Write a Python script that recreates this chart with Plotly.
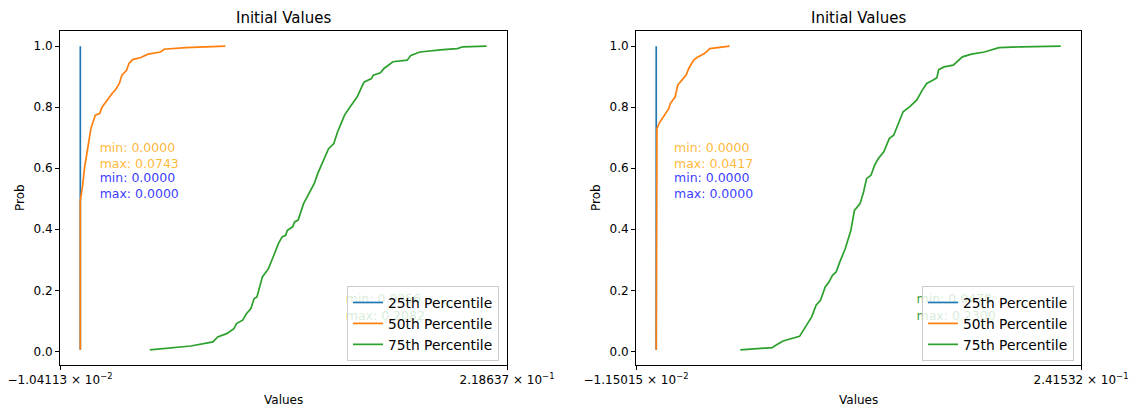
import plotly.graph_objects as go

# ---------------- data ----------------
# Left panel
L_p25_x = [0.0, 0.0]
L_p25_y = [0.005, 1.0]

L_p50_x = [0.0, 0.0, 0.0011, 0.0022, 0.0035, 0.0054, 0.0077, 0.0099, 0.0112, 0.0136,
           0.0163, 0.0181, 0.0200, 0.0213, 0.0237, 0.0249, 0.0268, 0.0310, 0.0347,
           0.0411, 0.0429, 0.0539, 0.0743]
L_p50_y = [0.005, 0.495, 0.539, 0.604, 0.654, 0.730, 0.774, 0.779, 0.801, 0.823,
           0.845, 0.858, 0.878, 0.905, 0.921, 0.943, 0.956, 0.963, 0.974,
           0.981, 0.990, 0.995, 1.0]

L_p75_x = [0.0356, 0.0566, 0.0680, 0.0704, 0.0750, 0.0787, 0.0800, 0.0832, 0.0851,
           0.0874, 0.0891, 0.0905, 0.0933, 0.0964, 0.0988, 0.1015, 0.1034, 0.1052,
           0.1061, 0.1088, 0.1098, 0.1116, 0.1144, 0.1171, 0.1199, 0.1217, 0.1244,
           0.1272, 0.1299, 0.1318, 0.1336, 0.1354, 0.1382, 0.1419, 0.1446, 0.1455,
           0.1492, 0.1501, 0.1538, 0.1556, 0.1602, 0.1675, 0.1694, 0.1740, 0.1859,
           0.1932, 0.1960, 0.2082]
L_p75_y = [0.005, 0.0175, 0.031, 0.047, 0.058, 0.074, 0.091, 0.102, 0.123,
           0.140, 0.173, 0.178, 0.244, 0.271, 0.309, 0.353, 0.375, 0.380,
           0.397, 0.408, 0.424, 0.430, 0.484, 0.517, 0.550, 0.583, 0.621,
           0.664, 0.681, 0.719, 0.746, 0.774, 0.801, 0.834, 0.872, 0.883,
           0.894, 0.905, 0.913, 0.927, 0.949, 0.954, 0.970, 0.981, 0.989,
           0.992, 0.998, 1.0]

# Right panel
R_p25_x = [0.0, 0.0]
R_p25_y = [0.005, 1.0]

R_p50_x = [0.0, 0.0, 0.0004, 0.0018, 0.0045, 0.0072, 0.0080, 0.0108, 0.0122, 0.0149,
           0.0170, 0.0185, 0.0212, 0.0232, 0.0274, 0.0305, 0.0347, 0.0417]
R_p50_y = [0.005, 0.719, 0.730, 0.749, 0.774, 0.796, 0.812, 0.834, 0.872, 0.889,
           0.905, 0.927, 0.954, 0.963, 0.976, 0.992, 0.995, 1.0]

R_p75_x = [0.0478, 0.0659, 0.0680, 0.0721, 0.0815, 0.0842, 0.0867, 0.0884, 0.0909,
           0.0934, 0.0961, 0.0982, 0.1002, 0.1023, 0.1044, 0.1075, 0.1107, 0.1127,
           0.1159, 0.1179, 0.1196, 0.1221, 0.1242, 0.1263, 0.1294, 0.1325, 0.1350,
           0.1377, 0.1404, 0.1440, 0.1481, 0.1513, 0.1538, 0.1575, 0.1596, 0.1606,
           0.1637, 0.1689, 0.1741, 0.1793, 0.1866, 0.1949, 0.2074, 0.2300]
R_p75_y = [0.005, 0.012, 0.020, 0.034, 0.049, 0.074, 0.096, 0.113, 0.151,
           0.167, 0.211, 0.227, 0.249, 0.260, 0.293, 0.337, 0.397, 0.462,
           0.484, 0.522, 0.566, 0.577, 0.610, 0.632, 0.654, 0.697, 0.708,
           0.746, 0.785, 0.801, 0.823, 0.856, 0.878, 0.889, 0.897, 0.923,
           0.932, 0.938, 0.965, 0.974, 0.981, 0.995, 0.998, 1.0]

series_names = ["25th Percentile", "50th Percentile", "75th Percentile"]
line_colors = ["#1f77b4", "#ff7f0e", "#2ca02c"]
text_colors = ["rgba(0,0,255,0.8)", "rgba(255,165,0,0.8)", "rgba(0,128,0,0.8)"]

L_xrange = [-0.0104113, 0.218637]
R_xrange = [-0.0115015, 0.241532]
L_xticktext = ["\u22121.04113 \u00d7 10<sup>\u22122</sup>", "2.18637 \u00d7 10<sup>\u22121</sup>"]
R_xticktext = ["\u22121.15015 \u00d7 10<sup>\u22122</sup>", "2.41532 \u00d7 10<sup>\u22121</sup>"]
yticks = [0.0, 0.2, 0.4, 0.6, 0.8, 1.0]
yticktext = ["0.0", "0.2", "0.4", "0.6", "0.8", "1.0"]

# annotation positions (data coords): x, y-center of the two-line block
L_text_pos = {"p25": (0.0099, 0.538), "p50": (0.0099, 0.638), "p75": (0.136, 0.1405)}
R_text_pos = {"p25": (0.0101, 0.538), "p50": (0.0101, 0.638), "p75": (0.148, 0.1405)}

# ---------------- figure ----------------
W, H = 1135, 410
FONT = "DejaVu Sans"
fig = go.Figure()

def px_x(p):
    return p / W

def px_y(p):
    return 1 - p / H

panels = [
    dict(xa="x", ya="y", legend="legend",
         data=[(L_p25_x, L_p25_y), (L_p50_x, L_p50_y), (L_p75_x, L_p75_y)],
         tp=L_text_pos),
    dict(xa="x2", ya="y2", legend="legend2",
         data=[(R_p25_x, R_p25_y), (R_p50_x, R_p50_y), (R_p75_x, R_p75_y)],
         tp=R_text_pos),
]

for pan in panels:
    keys = ["p25", "p50", "p75"]
    # text labels drawn as text traces (so they sit below the legend)
    for i, k in enumerate(keys):
        xs, ys = pan["data"][i]
        tx, ty = pan["tp"][k]
        fig.add_trace(go.Scatter(
            x=[tx], y=[ty], mode="text",
            text=[f"min: {min(xs):.4f}<br>max: {max(xs):.4f}"],
            textposition="middle right",
            textfont=dict(family=FONT, size=12.5, color=text_colors[i]),
            showlegend=False, hoverinfo="skip", cliponaxis=False,
            xaxis=pan["xa"], yaxis=pan["ya"]))
    for i, k in enumerate(keys):
        xs, ys = pan["data"][i]
        fig.add_trace(go.Scatter(
            x=xs, y=ys, mode="lines", name=series_names[i],
            line=dict(color=line_colors[i], width=1.7),
            legend=pan["legend"],
            xaxis=pan["xa"], yaxis=pan["ya"]))

ax_common = dict(showline=True, mirror=True, linecolor="black", linewidth=1,
                 ticks="outside", ticklen=4, tickcolor="black", tickwidth=1,
                 showgrid=False, zeroline=False, automargin=False,
                 tickfont=dict(family=FONT, size=12, color="black"))

L_dom = [px_x(60), px_x(507)]
R_dom = [px_x(636), px_x(1081)]
Y_dom = [px_y(365), px_y(31)]

legend_common = dict(xanchor="right", yanchor="bottom",
                     bgcolor="rgba(255,255,255,0.8)", bordercolor="#cccccc", borderwidth=1,
                     font=dict(family=FONT, size=13.8, color="black"), itemwidth=30,
                     tracegroupgap=0)

fig.update_layout(
    template="none",
    width=W, height=H, margin=dict(l=0, r=0, t=0, b=0, autoexpand=False),
    plot_bgcolor="white", paper_bgcolor="white",
    font=dict(family=FONT, color="black"),
    xaxis=dict(domain=L_dom, range=L_xrange, tickmode="array", tickvals=L_xrange,
               ticktext=L_xticktext, anchor="y", **ax_common),
    yaxis=dict(domain=Y_dom, range=[-0.04475, 1.04975], tickmode="array",
               tickvals=yticks, ticktext=yticktext, anchor="x", **ax_common),
    xaxis2=dict(domain=R_dom, range=R_xrange, tickmode="array", tickvals=R_xrange,
                ticktext=R_xticktext, anchor="y2", **ax_common),
    yaxis2=dict(domain=Y_dom, range=[-0.04475, 1.04975], tickmode="array",
                tickvals=yticks, ticktext=yticktext, anchor="x2", **ax_common),
    legend=dict(x=px_x(499), y=px_y(361), **legend_common),
    legend2=dict(x=px_x(1074), y=px_y(361), **legend_common),
    showlegend=True,
)

annots = []
for dom in (L_dom, R_dom):
    cx = (dom[0] + dom[1]) / 2
    annots.append(dict(text="Initial Values", x=cx, y=px_y(18), xref="paper", yref="paper",
                       showarrow=False, font=dict(family=FONT, size=15, color="black"),
                       xanchor="center", yanchor="middle"))
    annots.append(dict(text="Values", x=cx, y=px_y(400), xref="paper", yref="paper",
                       showarrow=False, font=dict(family=FONT, size=12, color="black"),
                       xanchor="center", yanchor="middle"))
for xp in (20, 596):
    annots.append(dict(text="Prob", x=px_x(xp), y=px_y(198), xref="paper", yref="paper",
                       showarrow=False, textangle=-90,
                       font=dict(family=FONT, size=12, color="black"),
                       xanchor="center", yanchor="middle"))
fig.update_layout(annotations=annots)

fig.write_html("out.html")
